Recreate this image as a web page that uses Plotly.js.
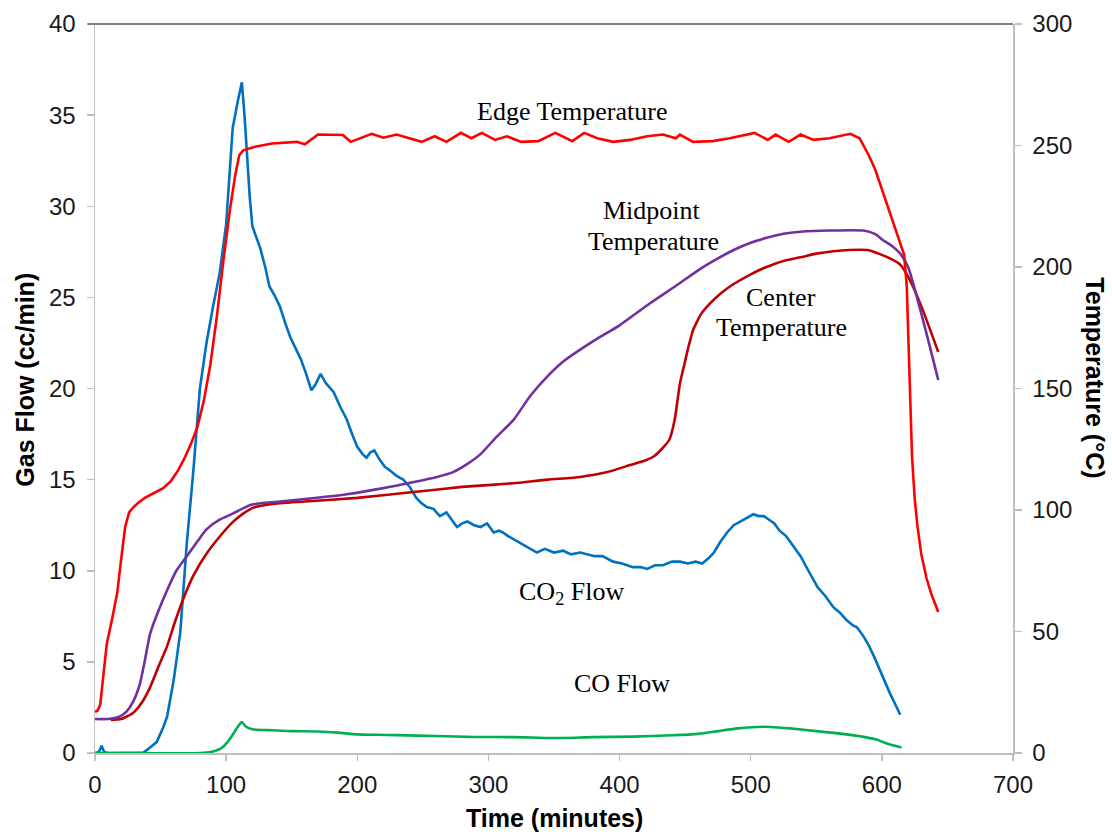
<!DOCTYPE html>
<html>
<head>
<meta charset="utf-8">
<script src="https://cdn.plot.ly/plotly-3.0.1.min.js"></script>
<style>html,body{margin:0;padding:0;background:#fff;}#chart{width:1112px;height:835px;}</style>
</head>
<body>
<div id="chart"></div>
<script>
// ---- Data ----
const co2Time = [0,3,5,7,10,20,30,37,42,47,52,55,60,65,70,75,80,85,90,95,100,105,109,112,114,116,118,120,123,126,130,133,137,141,145,149,153,157,161,165,168,172,176,182,187,192,196,200,204,207,210,213,217,221,225,230,235,240,245,249,253,258,263,268,272,276,280,284,289,294,299,304,308,311,315,320,324,330,337,343,350,357,363,370,375,381,387,395,402,410,416,421,427,433,440,446,452,458,463,468,472,477,482,487,492,497,502,506,510,514,518,522,527,532,538,544,551,557,563,568,573,578,581,586,590,594,598,602,606,610,614];
const co2Flow = [0,0.05,0.4,0.05,0,0.02,0,0.02,0.3,0.6,1.4,2.0,4.0,6.6,11.5,15.5,20,22.5,24.5,26.3,29,34.3,35.8,36.8,35,32.5,30.5,28.9,28.3,27.7,26.6,25.6,25.1,24.5,23.6,22.8,22.2,21.6,20.8,19.9,20.2,20.8,20.3,19.8,19.0,18.3,17.5,16.8,16.4,16.2,16.5,16.6,16.1,15.7,15.5,15.2,15.0,14.6,14.0,13.7,13.5,13.4,13.0,13.2,12.8,12.4,12.6,12.7,12.5,12.4,12.6,12.1,12.2,12.1,11.9,11.7,11.5,11.3,11.0,11.2,11.0,11.1,10.9,11.0,10.9,10.8,10.8,10.5,10.4,10.2,10.2,10.1,10.3,10.3,10.5,10.5,10.4,10.5,10.4,10.7,11.0,11.6,12.1,12.5,12.7,12.9,13.1,13.0,13.0,12.8,12.6,12.2,11.9,11.4,10.8,10.0,9.1,8.6,8.0,7.7,7.3,7.0,6.9,6.4,5.9,5.3,4.6,3.9,3.3,2.7,2.1];

const coTime = [0,80,88,93,97,101,105,109,112,115,120,135,150,170,185,200,215,230,260,290,320,350,380,410,440,460,475,490,505,515,530,550,570,585,595,605,615];
const coFlow = [0,0,0.05,0.15,0.3,0.6,1.0,1.45,1.7,1.45,1.3,1.25,1.2,1.18,1.12,1.02,1.0,0.98,0.93,0.88,0.87,0.82,0.87,0.9,0.97,1.05,1.2,1.35,1.43,1.43,1.35,1.2,1.05,0.9,0.75,0.5,0.3];

const edgeTime = [0,2,4,6,9,13,17,20,23,26,29,33,38,45,52,58,63,68,73,78,83,88,93,98,103,107,110,113,122,135,154,160,170,189,195,211,220,230,240,249,259,268,279,287,295,305,314,325,338,351,364,373,383,395,408,421,433,443,446,456,471,484,503,513,519,529,538,548,560,576,583,586,590,595,600,605,610,614,617,619,620,621,622,623,625,627,630,634,638,643];
const edgeTemp = [16.9,17.5,20,30,45,55,66,80,93,99,101,103,105,107,109,112,116,121,127,134,145,160,180,203,224,238,246,248,249.5,250.8,251.5,250.5,254.5,254.3,251.5,254.8,253.2,254.5,253,251.5,253.8,251.5,255.2,253,255.2,252.3,253.8,251.5,251.8,255.2,251.8,255.2,253,251.5,252.3,253.8,254.5,253,254.5,251.5,251.8,253,255.2,252.3,254.5,251.5,254.5,252.3,253,254.8,253,250,246,240,232,224,216,210,205,192,175,155,137,122,105,94,82,72,65,58];

const midTime = [0,10,18,24,29,34,38,42,48,55,62,70,78,85,95,105,118,130,141,160,192,220,243,260,273,284,294,306,319,332,345,358,370,383,400,423,445,461,475,487,500,512,525,538,560,586,595,601,608,614,620,630,643];
const midTemp = [14,14,14.8,17,21,28,38,49,58,67,75,81,87,92,96,98.5,102,103,103.5,104.5,106.5,109,111.5,113.5,115.6,119,123,130,137,147,155,161.5,166,170.5,176,185,193,199,203.5,207,210,212,213.7,214.5,215,215,213.5,211,208.5,205.5,200,181,153.5];

const centerTime = [12,20,29,36,42,48,55,61,67,75,85,95,105,113,121,135,160,200,243,280,319,345,370,390,408,420,426,432,438,442,446,449,452,456,462,469,478,487,500,512,525,538,550,563,575,589,600,608,614,620,630,643];
const centerTemp = [13.6,14,16.5,21,27,35,44,54,63,73,82,89,95,98.5,101,102.5,103.5,105,107.4,109.5,111,112.5,113.6,115.5,118.5,120.5,122,125,129,137,152,159,166,174,180.5,185,189.5,193,197,200,202.5,204,205.5,206.5,207,207,205,203,201,196,184,165];

const xTicks = [0,100,200,300,400,500,600,700];
const leftTicks = [0,5,10,15,20,25,30,35,40];
const rightTicks = [0,50,100,150,200,250,300];

// ---- Styles ----
const W = 2.6;
const traces = [
  {x: co2Time, y: co2Flow, type: 'scatter', mode: 'lines', name: 'CO2 Flow', line: {color: '#0070c0', width: W}, yaxis: 'y'},
  {x: coTime, y: coFlow, type: 'scatter', mode: 'lines', name: 'CO Flow', line: {color: '#00b050', width: W, shape: 'spline', smoothing: 0.6}, yaxis: 'y'},
  {x: centerTime, y: centerTemp, type: 'scatter', mode: 'lines', name: 'Center Temperature', line: {color: '#c00000', width: W, shape: 'spline', smoothing: 0.5}, yaxis: 'y2'},
  {x: midTime, y: midTemp, type: 'scatter', mode: 'lines', name: 'Midpoint Temperature', line: {color: '#7030a0', width: W, shape: 'spline', smoothing: 0.6}, yaxis: 'y2'},
  {x: edgeTime, y: edgeTemp, type: 'scatter', mode: 'lines', name: 'Edge Temperature', line: {color: '#ff0000', width: W}, yaxis: 'y2'}
];

const tickFont = {family: 'Liberation Sans, Arial, sans-serif', size: 24, color: '#1a1a1a'};
const labelFont = {family: 'Liberation Serif, Times New Roman, serif', size: 26, color: '#000'};
const titleFont = {family: 'Liberation Sans, Arial, sans-serif', size: 25, color: '#000'};

function lbl(text, x, y) {
  return {text: text, x: x, y: y, xref: 'x', yref: 'y', showarrow: false, font: labelFont, xanchor: 'center', yanchor: 'middle'};
}

const layout = {
  width: 1112, height: 835,
  margin: {l: 95, r: 99, t: 24, b: 82},
  paper_bgcolor: '#fff', plot_bgcolor: '#fff',
  showlegend: false,
  xaxis: {
    range: [0, 700], tickvals: xTicks, ticktext: xTicks.map(String),
    showgrid: false, zeroline: false, showline: true, linecolor: '#bfbfbf', linewidth: 1.5,
    ticks: 'outside', ticklen: 6, tickcolor: '#bfbfbf', tickwidth: 1.5, tickfont: tickFont,
    ticklabelstandoff: 4
  },
  yaxis: {
    range: [0, 40], tickvals: leftTicks, ticktext: leftTicks.map(String),
    showgrid: false, zeroline: false, showline: true, linecolor: '#bfbfbf', linewidth: 1.5,
    ticks: 'outside', ticklen: 7, tickcolor: '#bfbfbf', tickwidth: 1.5, tickfont: tickFont,
    ticklabelstandoff: 6
  },
  yaxis2: {
    range: [0, 300], tickvals: rightTicks, ticktext: rightTicks.map(String),
    overlaying: 'y', side: 'right', anchor: 'x',
    showgrid: false, zeroline: false, showline: true, linecolor: '#bfbfbf', linewidth: 1.5,
    ticks: 'outside', ticklen: 7, tickcolor: '#bfbfbf', tickwidth: 1.5, tickfont: tickFont,
    ticklabelstandoff: 6
  },
  shapes: [
    {type: 'line', xref: 'paper', yref: 'paper', x0: -0.008, x1: 1.0, y0: 1, y1: 1, line: {color: '#808080', width: 2}}
  ],
  annotations: [
    lbl('Edge Temperature', 363.7, 35.2),
    lbl('Midpoint', 424.7, 29.74),
    lbl('Temperature', 425.5, 28.09),
    lbl('Center', 523, 25.02),
    lbl('Temperature', 523.8, 23.37),
    lbl('CO<sub>2</sub> Flow', 363.7, 8.78),
    lbl('CO Flow', 401.8, 3.84),
    {text: '<b>Time (minutes)</b>', xref: 'paper', yref: 'paper', x: 0.5, y: -0.0892, showarrow: false, font: titleFont, xanchor: 'center', yanchor: 'middle'},
    {text: '<b>Gas Flow (cc/min)</b>', xref: 'paper', yref: 'paper', x: -0.0763, y: 0.512, showarrow: false, font: titleFont, textangle: -90, xanchor: 'center', yanchor: 'middle'},
    {text: '<b>Temperature (°C)</b>', xref: 'paper', yref: 'paper', x: 1.0893, y: 0.514, showarrow: false, font: titleFont, textangle: 90, xanchor: 'center', yanchor: 'middle'}
  ]
};

Plotly.newPlot('chart', traces, layout, {displayModeBar: false, staticPlot: true});
</script>
</body>
</html>
